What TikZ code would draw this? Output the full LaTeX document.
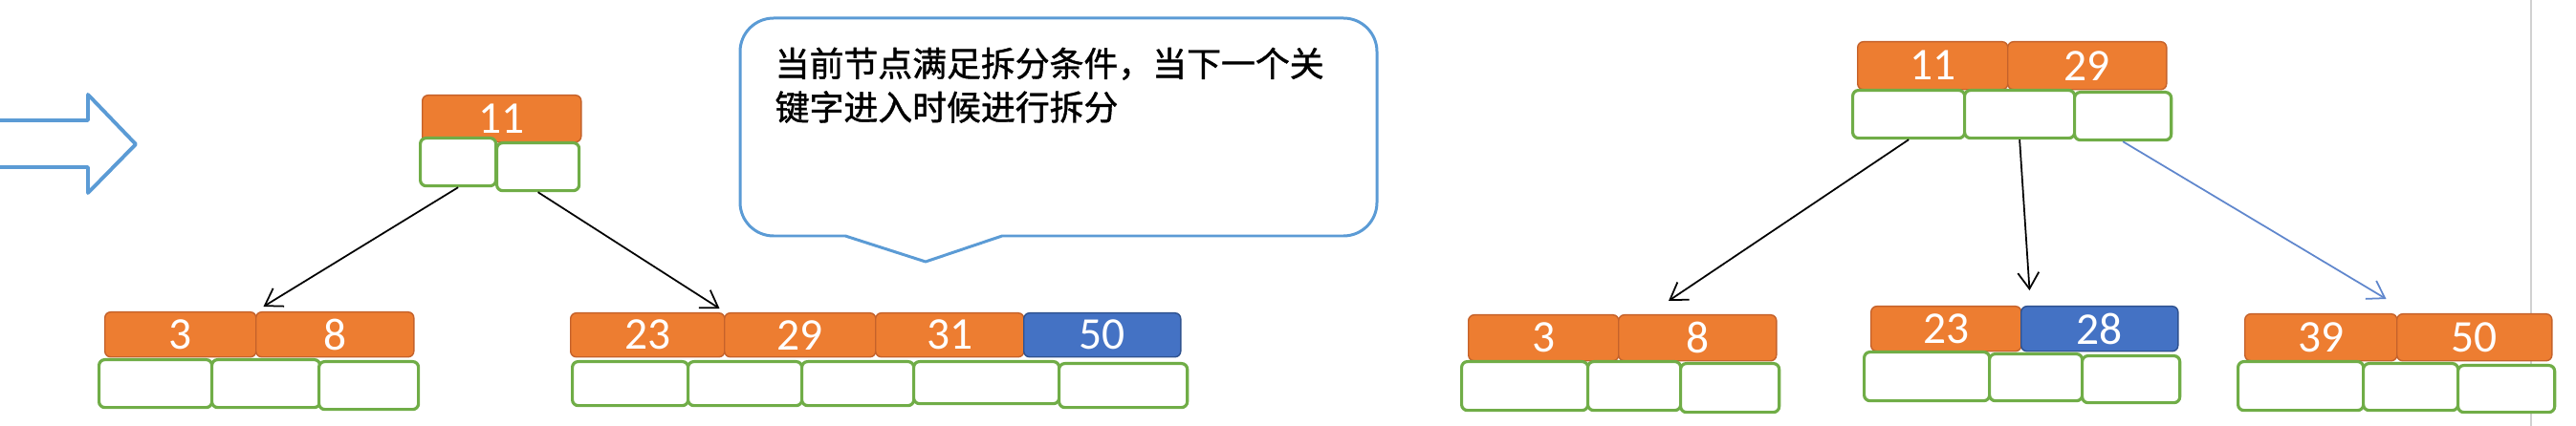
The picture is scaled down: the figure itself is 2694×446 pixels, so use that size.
\documentclass[tikz,border=0pt]{standalone}
\usepackage{fontspec}
\usepackage{xcolor}
\usepackage{tikz}
\usetikzlibrary{arrows.meta,calc}
\newfontfamily\numfont{Carlito}
\newfontfamily\cjkfont[FakeBold=1.2]{Noto Sans CJK SC}
\definecolor{keyorange}{HTML}{ED7D31}
\definecolor{keyedge}{HTML}{C5622B}
\definecolor{keyblue}{HTML}{4472C4}
\definecolor{keyblueedge}{HTML}{2F528F}
\definecolor{ptrgreen}{HTML}{70AD47}
\definecolor{noteblue}{HTML}{5B9BD5}

\begin{document}
\begin{tikzpicture}[x=0.01cm,y=-0.01cm,line join=round,
  key/.style={rectangle,rounded corners=1.7pt,fill=keyorange,draw=keyedge,line width=0.4pt,
    text=white,font=\numfont\fontsize{13.5}{15}\selectfont,inner sep=0pt,anchor=north west},
  newkey/.style={key,fill=keyblue,draw=keyblueedge},
  ptr/.style={rectangle,rounded corners=1.7pt,fill=white,draw=ptrgreen,line width=0.9pt,
    inner sep=0pt,anchor=north west},
  link/.style={-{Straight Barb[length=0.17cm,width=0.22cm]},line width=0.5pt},
  hollow/.style={draw=noteblue,line width=1.1pt}]
  \useasboundingbox (0,0) rectangle (2694,446);
  \draw[black!18,line width=0.6pt] (2647,0) -- (2647,446);

  % big arrow
  \draw[hollow] (-5,126) -- (92,126) -- (92,99) -- (142,151) -- (92,202) -- (92,175) -- (-5,175);

  % note
  \draw[hollow,line width=0.85pt,fill=white] (968,274) -- (884,247) -- (809,247) arc (90:180:35)
    -- (774,54) arc (180:270:35) -- (1405,19) arc (270:360:35) -- (1440,212) arc (0:90:35)
    -- (1048,247) -- cycle;
  \node[anchor=north west,inner sep=0pt,align=left,font=\cjkfont\fontsize{10.2}{13}\selectfont] (note) at (810,49)
    {当前节点满足拆分条件，当下一个关\\键字进入时候进行拆分};

  % before split
  \node[key,minimum width=1.66cm,minimum height=0.49cm] (kR1) at (441,99) {11};
  \node[ptr,minimum width=0.79cm,minimum height=0.50cm] (pR1a) at (438,143) {};
  \node[ptr,minimum width=0.86cm,minimum height=0.50cm] (pR1b) at (518,148) {};

  \node[key,minimum width=1.58cm,minimum height=0.47cm] (kA1) at (109,326) {3};
  \node[key,minimum width=1.65cm,minimum height=0.47cm] (kA2) at (267,326) {8};
  \node[ptr,minimum width=1.18cm,minimum height=0.50cm] (pA1) at (102,375) {};
  \node[ptr,minimum width=1.13cm,minimum height=0.50cm] (pA2) at (220,375) {};
  \node[ptr,minimum width=1.04cm,minimum height=0.50cm] (pA3) at (332,377) {};

  \node[key,minimum width=1.61cm,minimum height=0.46cm] (kB1) at (596,327) {23};
  \node[key,minimum width=1.58cm,minimum height=0.46cm] (kB2) at (757,327) {29};
  \node[key,minimum width=1.55cm,minimum height=0.46cm] (kB3) at (915,327) {31};
  \node[newkey,minimum width=1.64cm,minimum height=0.46cm] (kB4) at (1070,327) {50};
  \node[ptr,minimum width=1.21cm,minimum height=0.46cm] (pB1) at (597,377) {};
  \node[ptr,minimum width=1.19cm,minimum height=0.46cm] (pB2) at (718,377) {};
  \node[ptr,minimum width=1.17cm,minimum height=0.46cm] (pB3) at (837,377) {};
  \node[ptr,minimum width=1.52cm,minimum height=0.44cm] (pB4) at (954,377) {};
  \node[ptr,minimum width=1.34cm,minimum height=0.46cm] (pB5) at (1106,379) {};

  \draw[link] (pR1a.south) -- ($(kA1.north east)+(7,-5)$);
  \draw[link] (pR1b.south) -- ($(kB1.north east)+(-6,-4)$);

  % after split
  \node[key,minimum width=1.57cm,minimum height=0.50cm] (kR2a) at (1942,43) {11};
  \node[key,minimum width=1.66cm,minimum height=0.50cm] (kR2b) at (2099,43) {29};
  \node[ptr,minimum width=1.17cm,minimum height=0.50cm] (pR2a) at (1936,93) {};
  \node[ptr,minimum width=1.15cm,minimum height=0.50cm] (pR2b) at (2053,93) {};
  \node[ptr,minimum width=1.01cm,minimum height=0.50cm] (pR2c) at (2168,95) {};

  \node[key,minimum width=1.57cm,minimum height=0.48cm] (kC1) at (1535,329) {3};
  \node[key,minimum width=1.65cm,minimum height=0.48cm] (kC2) at (1692,329) {8};
  \node[ptr,minimum width=1.32cm,minimum height=0.51cm] (pC1) at (1527,377) {};
  \node[ptr,minimum width=0.97cm,minimum height=0.51cm] (pC2) at (1659,377) {};
  \node[ptr,minimum width=1.03cm,minimum height=0.51cm] (pC3) at (1756,379) {};

  \node[key,minimum width=1.57cm,minimum height=0.47cm] (kD1) at (1956,320) {23};
  \node[newkey,minimum width=1.64cm,minimum height=0.47cm] (kD2) at (2113,320) {28};
  \node[ptr,minimum width=1.31cm,minimum height=0.51cm] (pD1) at (1948,367) {};
  \node[ptr,minimum width=0.97cm,minimum height=0.49cm] (pD2) at (2079,369) {};
  \node[ptr,minimum width=1.02cm,minimum height=0.49cm] (pD3) at (2176,371) {};

  \node[key,minimum width=1.59cm,minimum height=0.49cm] (kE1) at (2347,328) {39};
  \node[key,minimum width=1.62cm,minimum height=0.49cm] (kE2) at (2506,328) {50};
  \node[ptr,minimum width=1.31cm,minimum height=0.51cm] (pE1) at (2339,377) {};
  \node[ptr,minimum width=0.99cm,minimum height=0.49cm] (pE2) at (2470,379) {};
  \node[ptr,minimum width=1.01cm,minimum height=0.49cm] (pE3) at (2569,381) {};

  \draw[link] (pR2a.south) -- ($(kC2.north west)+(53,-14)$);
  \draw[link] (pR2b.south) -- ($(kD1.north east)+(8,-16)$);
  \draw[link,draw=keyblue!85!white] (pR2c.south) -- ($(kE1.north east)+(-12,-15)$);
\end{tikzpicture}
\end{document}
